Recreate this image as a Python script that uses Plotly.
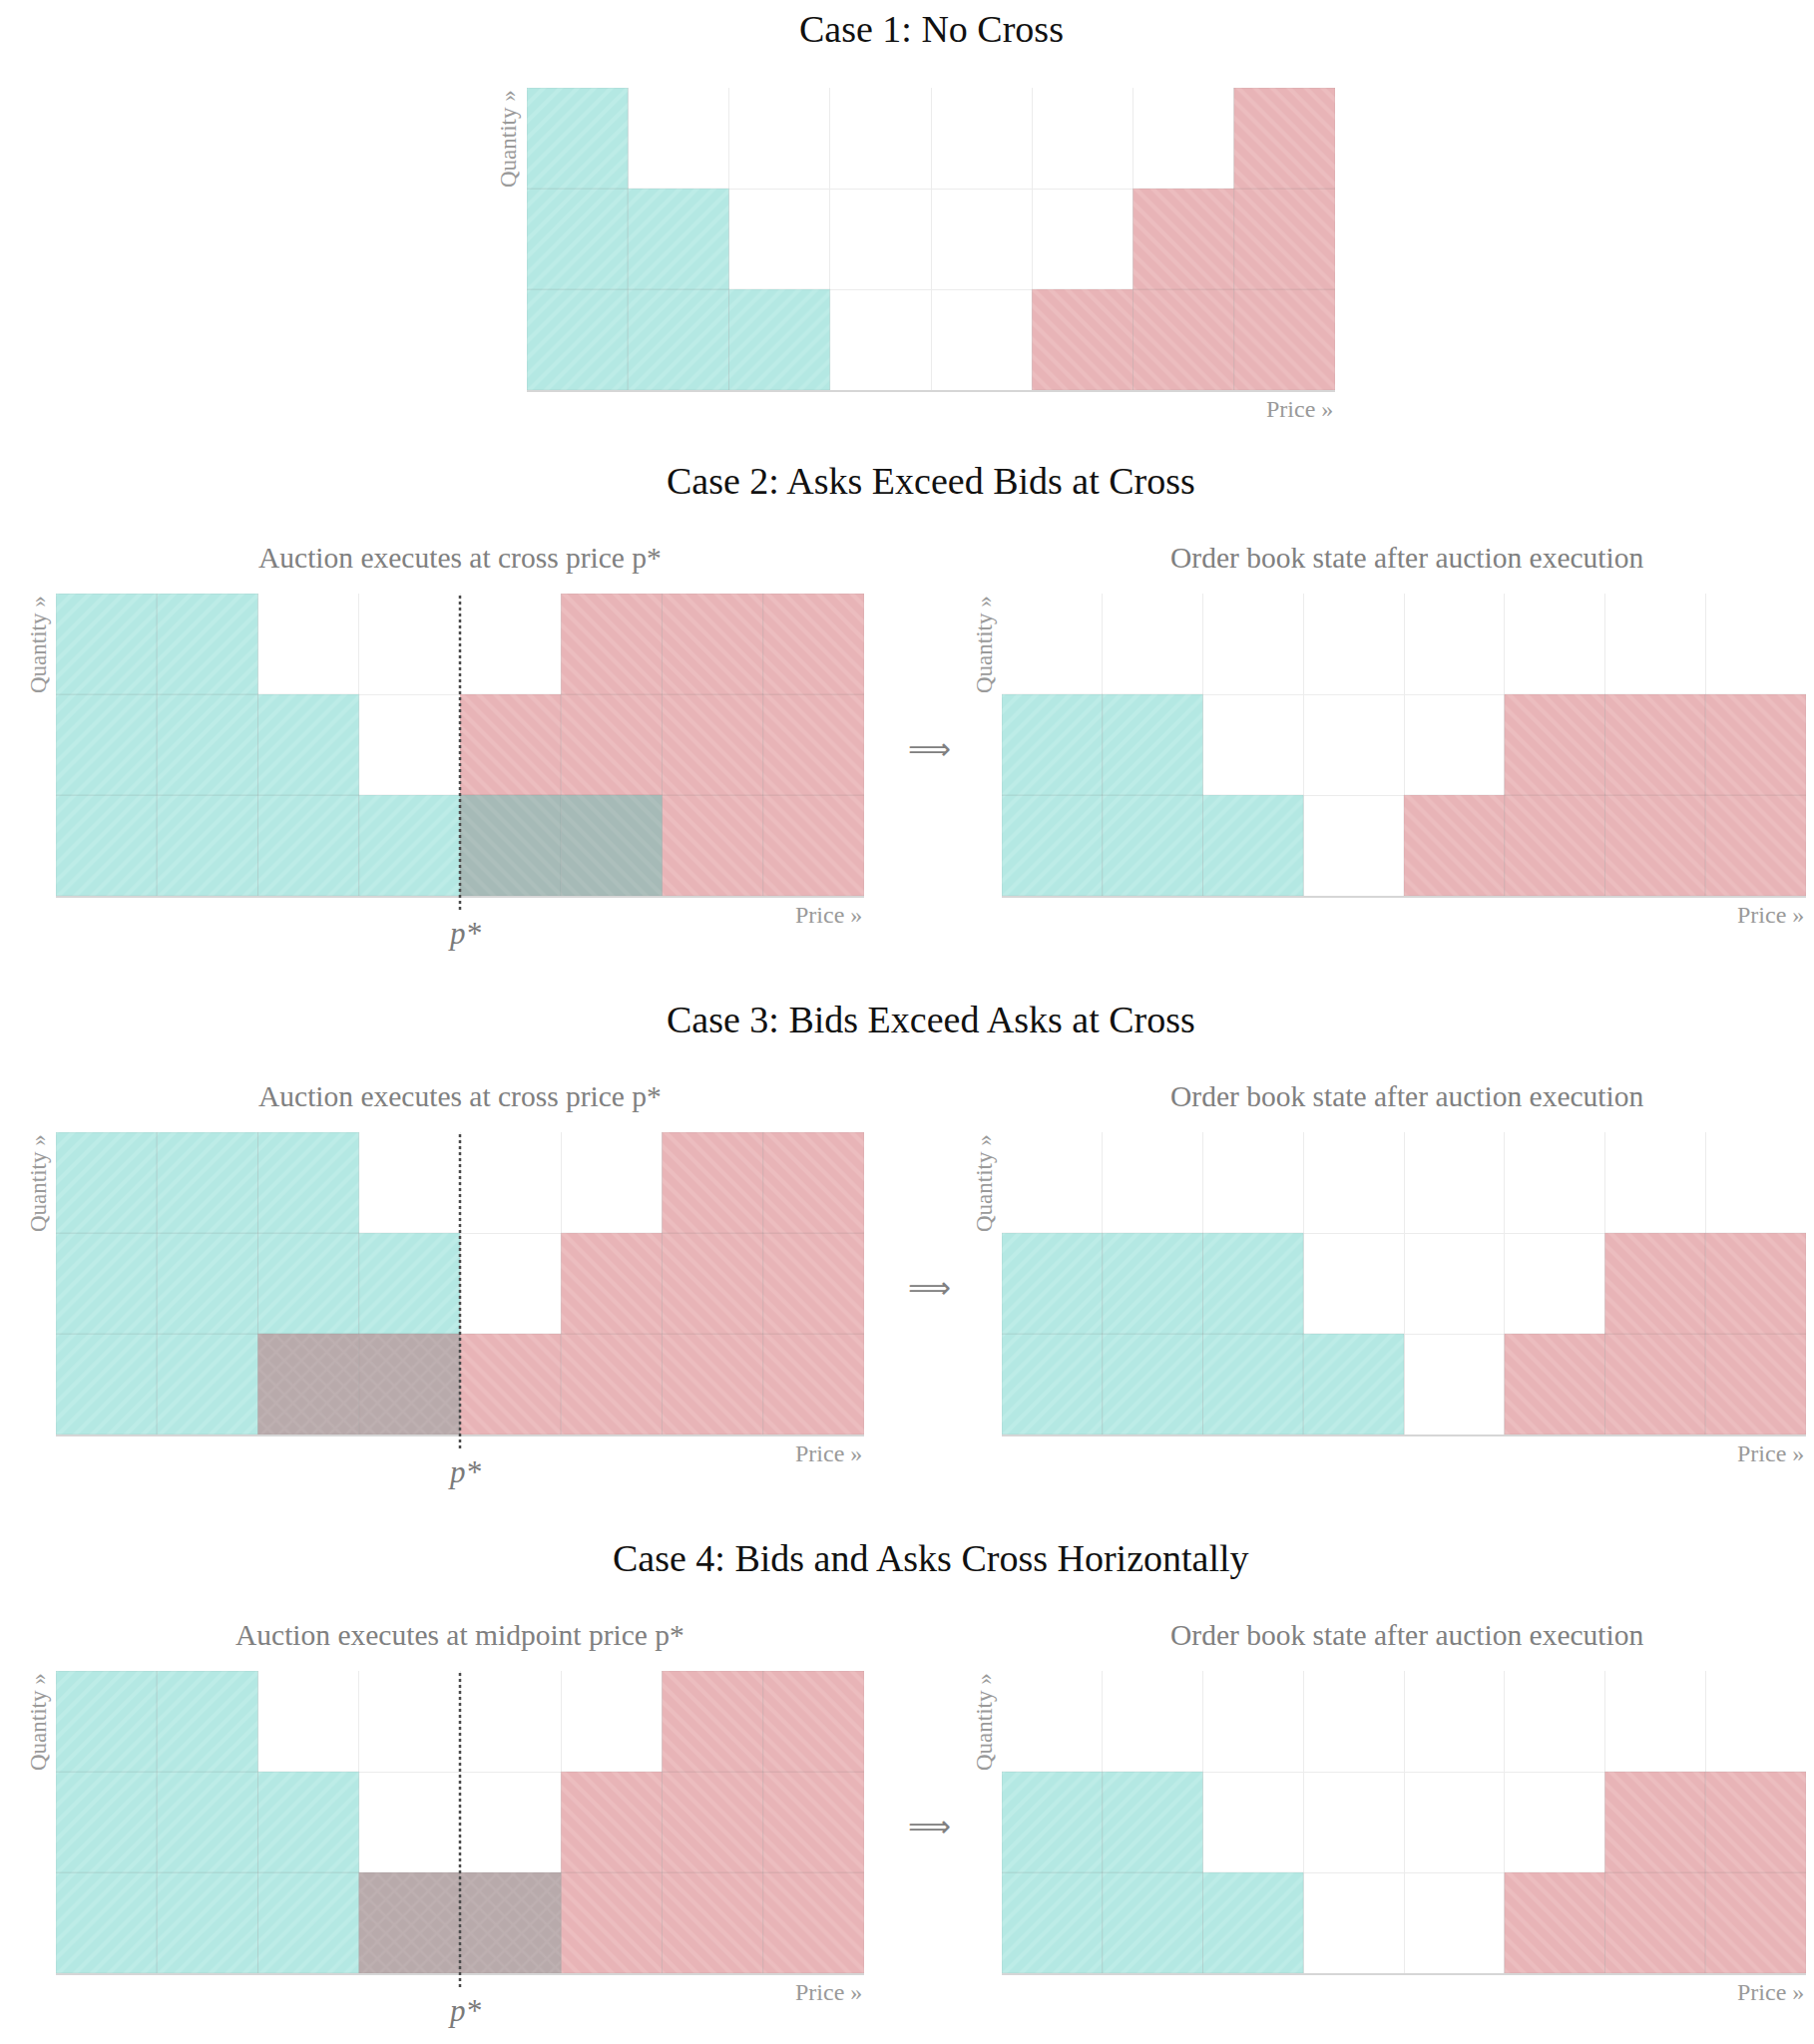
import plotly.graph_objects as go

# ---------------- data ----------------
price_levels = [1, 2, 3, 4, 5, 6, 7, 8]
quantity_rows = 3
cross_price = 4  # boundary between level 4 and 5 (p*)

case_titles = [
    "Case 1: No Cross",
    "Case 2: Asks Exceed Bids at Cross",
    "Case 3: Bids Exceed Asks at Cross",
    "Case 4: Bids and Asks Cross Horizontally",
]
pre_subtitles = [
    "Auction executes at cross price p*",
    "Auction executes at cross price p*",
    "Auction executes at midpoint price p*",
]
post_subtitle = "Order book state after auction execution"

case1_bids = [3, 2, 1, 0, 0, 0, 0, 0]
case1_asks = [0, 0, 0, 0, 0, 1, 2, 3]

case2_pre_bids = [3, 3, 2, 1, 0, 0, 0, 0]
case2_pre_asks = [0, 0, 0, 0, 2, 3, 3, 3]
case2_pre_exec = [0, 0, 0, 0, 1, 1, 0, 0]
case2_post_bids = [2, 2, 1, 0, 0, 0, 0, 0]
case2_post_asks = [0, 0, 0, 0, 1, 2, 2, 2]

case3_pre_bids = [3, 3, 3, 2, 0, 0, 0, 0]
case3_pre_asks = [0, 0, 0, 0, 1, 2, 3, 3]
case3_pre_exec = [0, 0, 1, 1, 0, 0, 0, 0]
case3_post_bids = [2, 2, 2, 1, 0, 0, 0, 0]
case3_post_asks = [0, 0, 0, 0, 0, 1, 2, 2]

case4_pre_bids = [3, 3, 2, 1, 0, 0, 0, 0]
case4_pre_asks = [0, 0, 0, 0, 1, 2, 3, 3]
case4_pre_exec = [0, 0, 0, 1, 1, 0, 0, 0]
case4_post_bids = [2, 2, 1, 0, 0, 0, 0, 0]
case4_post_asks = [0, 0, 0, 0, 0, 1, 2, 2]

# ---------------- styles ----------------
W, H, OFF = 1802, 2033, 8   # page body has an 8px margin
SERIF = "Liberation Serif, Times New Roman, serif"
BID = dict(color="#b4e8e3", fg="#c6efeb", shape="/")
ASK = dict(color="#e8b4b7", fg="#efc5c7", shape="\\")
EXEC_STYLES = [
    dict(color="#a6bab7", fg="#b3c4c1", shape="\\"),
    dict(color="#b8aaab", fg="#c3b6b7", shape="x"),
    dict(color="#b8aaab", fg="#c3b6b7", shape="x"),
]
GRID = "#ececec"


def px(x):
    return min(1.0, max(0.0, (x - OFF) / W))


def py(y):
    return min(1.0, max(0.0, 1 - (y - OFF) / H))


fig = go.Figure()
annotations = []
shapes = []


def cells(heights, skip=None):
    xs, bases = [], []
    for lvl, h in zip(price_levels, heights):
        start = skip[lvl - 1] if skip else 0
        for r in range(start, h):
            xs.append(lvl - 0.5)
            bases.append(r)
    return xs, bases


def add_bar(idx, heights, style, skip=None):
    xs, bases = cells(heights, skip)
    if not xs:
        return
    sfx = "" if idx == 1 else str(idx)
    fig.add_trace(go.Bar(
        x=xs, y=[1] * len(xs), base=bases, width=1,
        xaxis="x" + sfx, yaxis="y" + sfx,
        marker=dict(
            color=style["color"],
            line=dict(color="rgba(110,110,110,0.13)", width=1),
            pattern=dict(shape=style["shape"], fgcolor=style["fg"], bgcolor=style["color"],
                         size=12, solidity=0.35, fillmode="overlay"),
        ),
        showlegend=False, hoverinfo="skip",
    ))


def add_panel(idx, x0, x1, y0, y1, bids, asks, execd=None, exec_style=None, pstar=False):
    sfx = "" if idx == 1 else str(idx)
    fig.update_layout(**{
        "xaxis" + sfx: dict(domain=[px(x0), px(x1)], range=[0, len(price_levels)],
                            anchor="y" + sfx, tickvals=price_levels[:-1], showticklabels=False,
                            ticks="", showgrid=True, gridcolor=GRID, gridwidth=1,
                            zeroline=False, showline=True, linecolor="#d6d6d6", linewidth=1.5,
                            fixedrange=True),
        "yaxis" + sfx: dict(domain=[py(y1), py(y0)], range=[0, quantity_rows],
                            anchor="x" + sfx, tickvals=list(range(1, quantity_rows + 1)),
                            showticklabels=False, ticks="", showgrid=True, gridcolor=GRID,
                            gridwidth=1, zeroline=False, showline=False, fixedrange=True),
    })
    add_bar(idx, bids, BID, execd)
    add_bar(idx, asks, ASK, execd)
    if execd:
        add_bar(idx, execd, exec_style)
    # axis labels
    annotations.append(dict(text="Price »", x=px(x1), y=py(y1 + 19), xref="paper", yref="paper",
                            xanchor="right", yanchor="middle", showarrow=False,
                            font=dict(family=SERIF, size=24, color="#9a9a9a")))
    annotations.append(dict(text="Quantity »", x=px(x0 - 18), y=py(y0), xref="paper", yref="paper",
                            xanchor="center", yanchor="top", textangle=-90, showarrow=False,
                            font=dict(family=SERIF, size=23, color="#9a9a9a")))
    if pstar:
        shapes.append(dict(type="line", xref="x" + sfx, yref="paper", x0=cross_price, x1=cross_price,
                           y0=py(y1 + 14), y1=py(y0), line=dict(color="#4a4a4a", width=2.5, dash="dot")))
        annotations.append(dict(text="<i>p*</i>", x=cross_price, y=py(y1 + 37), xref="x" + sfx,
                                yref="paper", xanchor="center", yanchor="middle", showarrow=False,
                                xshift=5,
                                font=dict(family=SERIF, size=31, color="#7a7a7a")))


# Case 1
title_x = 933
annotations.append(dict(text=case_titles[0], x=px(title_x), y=py(29), xref="paper", yref="paper",
                        xanchor="center", yanchor="middle", showarrow=False,
                        font=dict(family=SERIF, size=38, color="#111111")))
add_panel(1, 528, 1338, 88, 391, case1_bids, case1_asks)

LX0, LX1, RX0, RX1 = 56, 866, 1004, 1810
tops = [595, 1135, 1675]
PH = 303
pre_data = [
    (case2_pre_bids, case2_pre_asks, case2_pre_exec, case2_post_bids, case2_post_asks),
    (case3_pre_bids, case3_pre_asks, case3_pre_exec, case3_post_bids, case3_post_asks),
    (case4_pre_bids, case4_pre_asks, case4_pre_exec, case4_post_bids, case4_post_asks),
]
idx = 2
for k, top in enumerate(tops):
    bot = top + PH
    pb, pa, pe, qb, qa = pre_data[k]
    annotations.append(dict(text=case_titles[k + 1], x=px(title_x), y=py(top - 113), xref="paper",
                            yref="paper", xanchor="center", yanchor="middle", showarrow=False,
                            font=dict(family=SERIF, size=38, color="#111111")))
    annotations.append(dict(text=pre_subtitles[k], x=px((LX0 + LX1) / 2), y=py(top - 36), xref="paper",
                            yref="paper", xanchor="center", yanchor="middle", showarrow=False,
                            font=dict(family=SERIF, size=29.5, color="#808080")))
    annotations.append(dict(text=post_subtitle, x=px((RX0 + RX1) / 2 + 3), y=py(top - 36), xref="paper",
                            yref="paper", xanchor="center", yanchor="middle", showarrow=False,
                            font=dict(family=SERIF, size=29.5, color="#808080")))
    add_panel(idx, LX0, LX1, top, bot, pb, pa, pe, EXEC_STYLES[k], pstar=True)
    add_panel(idx + 1, RX0, RX1, top, bot, qb, qa)
    annotations.append(dict(text="⟹", x=px(931), y=py(top + PH / 2 + 4), xref="paper", yref="paper",
                            xanchor="center", yanchor="middle", showarrow=False,
                            font=dict(family="DejaVu Sans", size=30, color="#808080")))
    idx += 2

fig.update_layout(
    width=W, height=H, margin=dict(l=0, r=0, t=0, b=0),
    paper_bgcolor="white", plot_bgcolor="white", barmode="overlay",
    annotations=annotations, shapes=shapes, showlegend=False,
)
fig.write_html("out.html")
